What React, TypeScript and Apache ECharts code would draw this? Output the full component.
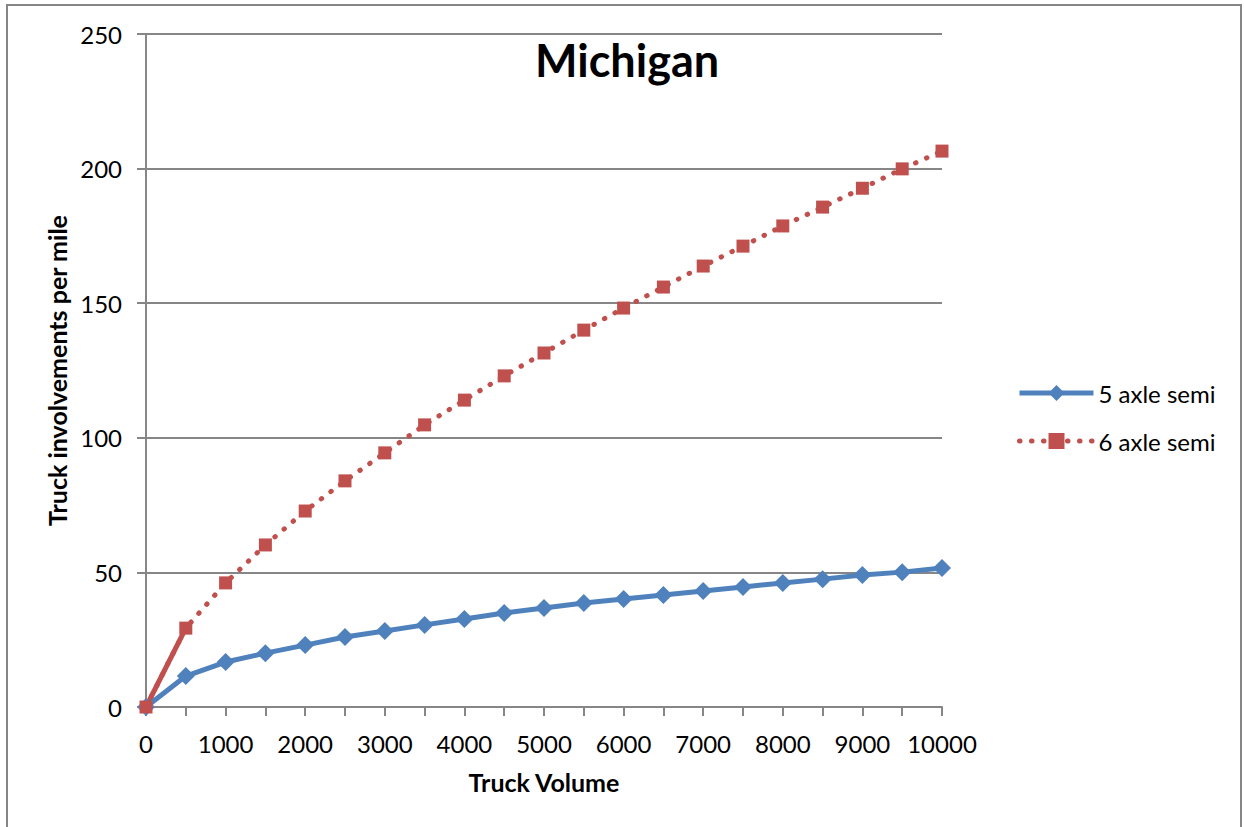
import React, { useEffect, useRef } from "react";
import * as echarts from "echarts";

const categories = ["0","500","1000","1500","2000","2500","3000","3500","4000","4500","5000","5500","6000","6500","7000","7500","8000","8500","9000","9500","10000"];
const fiveAxle = [0, 11.5, 16.7, 20.0, 23.0, 26.0, 28.2, 30.5, 32.7, 34.9, 36.8, 38.6, 40.1, 41.6, 43.1, 44.6, 46.1, 47.5, 49.0, 50.1, 51.6];
const sixAxle = [0, 29.3, 46.1, 60.2, 72.8, 84.0, 94.4, 104.8, 114.0, 123.0, 131.5, 140.0, 148.2, 156.0, 163.8, 171.2, 178.7, 185.7, 192.7, 199.9, 206.5];
const sixAxleSolidPart = sixAxle.map((v, i) => (i <= 1 ? v : "-"));

const FONT = "Lato";
const BLUE = "#4F81BD";
const RED = "#C0504D";

export default function App() {
  const ref = useRef<HTMLDivElement>(null);
  useEffect(() => {
    if (!ref.current) return;
    const chart = echarts.init(ref.current, undefined, { renderer: "svg" });
    chart.setOption({
      animation: false,
      backgroundColor: "#ffffff",
      textStyle: { fontFamily: FONT, color: "#000" },
      title: {
        text: "Michigan",
        left: 530,
        top: 32,
        textStyle: { fontFamily: FONT, fontSize: 45, fontWeight: "bold", color: "#000" },
      },
      graphic: [
        {
          type: "rect",
          shape: { x: 7, y: 5, width: 1234, height: 840 },
          style: { fill: "none", stroke: "#868686", lineWidth: 2 },
          silent: true,
        },
      ],
      legend: {
        orient: "vertical",
        left: 1012,
        top: 376,
        itemGap: 24,
        itemWidth: 74,
        itemHeight: 20,
        data: [
          { name: "5 axle semi", lineStyle: { width: 5, color: BLUE }, itemStyle: { color: BLUE } },
          { name: "6 axle semi", lineStyle: { width: 5, color: RED, type: [0.5, 11.5], cap: "round" }, itemStyle: { color: RED } },
        ],
        textStyle: { fontFamily: FONT, fontSize: 24, color: "#000" },
      },
      grid: { left: 146, right: 302, top: 34, bottom: 120, containLabel: false },
      xAxis: {
        type: "category",
        data: categories,
        boundaryGap: false,
        name: "Truck Volume",
        nameLocation: "middle",
        nameGap: 62,
        nameTextStyle: { fontFamily: FONT, fontSize: 25, fontWeight: "bold", color: "#000", verticalAlign: "top" },
        axisLine: { lineStyle: { color: "#868686", width: 2 } },
        axisTick: { show: true, interval: 0, length: 9, lineStyle: { color: "#868686", width: 2 } },
        axisLabel: { interval: 1, margin: 24, fontFamily: FONT, fontSize: 24, color: "#000" },
        splitLine: { show: false },
      },
      yAxis: {
        type: "value",
        min: 0,
        max: 250,
        interval: 50,
        name: "Truck involvements per mile",
        nameLocation: "middle",
        nameGap: 76,
        nameRotate: 90,
        nameTextStyle: { fontFamily: FONT, fontSize: 25, fontWeight: "bold", color: "#000" },
        axisLine: { show: true, lineStyle: { color: "#868686", width: 2 } },
        axisTick: { show: true, length: 9, lineStyle: { color: "#868686", width: 2 } },
        axisLabel: { margin: 24, fontFamily: FONT, fontSize: 24, color: "#000" },
        splitLine: { show: true, lineStyle: { color: "#868686", width: 2 } },
      },
      series: [
        {
          name: "6 axle semi solid",
          type: "line",
          data: sixAxleSolidPart,
          showSymbol: false,
          symbol: "none",
          lineStyle: { color: RED, width: 5, type: "solid" },
          itemStyle: { color: RED },
          z: 2,
        },
        {
          name: "5 axle semi",
          type: "line",
          data: fiveAxle,
          symbol: "diamond",
          symbolSize: 18,
          lineStyle: { color: BLUE, width: 5 },
          itemStyle: { color: BLUE },
          z: 3,
        },
        {
          name: "6 axle semi",
          type: "line",
          data: sixAxle,
          symbol: "rect",
          symbolSize: 13,
          lineStyle: { color: RED, width: 5, type: [0.5, 11.5], cap: "round" },
          itemStyle: { color: RED },
          z: 4,
        },
      ],
    });
    return () => chart.dispose();
  }, []);
  return (
    <div
      ref={ref}
      style={{ position: "fixed", left: 0, top: 0, width: 1244, height: 827 }}
    />
  );
}
